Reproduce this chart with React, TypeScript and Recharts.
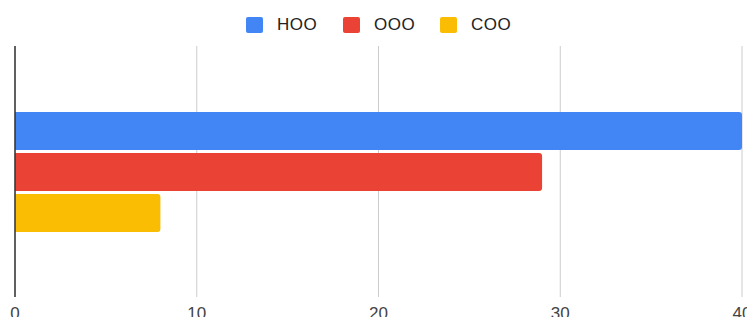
import React from "react";
import { BarChart, Bar, XAxis, YAxis, CartesianGrid, ReferenceLine } from "recharts";

const categories = ["Role"];
const seriesNames = ["HOO", "OOO", "COO"];
const hooValues = [40];
const oooValues = [29];
const cooValues = [8];
const xTicks = [0, 10, 20, 30, 40];
const colors = ["#4285F4", "#EA4335", "#FBBC04"];

const data = categories.map((name, i) => ({
  name,
  HOO: hooValues[i],
  OOO: oooValues[i],
  COO: cooValues[i],
}));

const font = "'Liberation Sans', Arial, sans-serif";

export default function App() {
  return (
    <div style={{ position: "absolute", left: 0, top: 0, width: 747, height: 317, background: "#fff", overflow: "hidden" }}>
      <div style={{ position: "absolute", top: 15, left: 246, display: "flex", fontFamily: font, fontSize: 17, color: "#222" }}>
        {seriesNames.map((s, i) => (
          <div key={s} style={{ display: "flex", alignItems: "center", width: 97, height: 20 }}>
            <div style={{ width: 17, height: 16, background: colors[i], borderRadius: 2, marginRight: 14 }} />
            <span style={{ letterSpacing: 0.5 }}>{s}</span>
          </div>
        ))}
      </div>
      <BarChart
        width={747}
        height={317}
        data={data}
        layout="vertical"
        margin={{ top: 46, right: 5, left: 15, bottom: 0 }}
        barCategoryGap={66}
        barGap={3}
      >
        <CartesianGrid horizontal={false} vertical={true} stroke="#cccccc" />
        <XAxis
          type="number"
          domain={[0, 40]}
          ticks={xTicks}
          interval={0}
          axisLine={false}
          tickLine={false}
          tickSize={0}
          tickMargin={10}
          height={20}
          tick={{ fill: "#444", fontSize: 17, fontFamily: font }}
        />
        <YAxis type="category" dataKey="name" width={0} tick={false} tickLine={false} axisLine={false} />
        {seriesNames.map((s, i) => (
          <Bar key={s} dataKey={s} fill={colors[i]} radius={[0, 3, 3, 0]} isAnimationActive={false} />
        ))}
        <ReferenceLine x={0} stroke="#333333" strokeWidth={1.5} />
      </BarChart>
    </div>
  );
}
